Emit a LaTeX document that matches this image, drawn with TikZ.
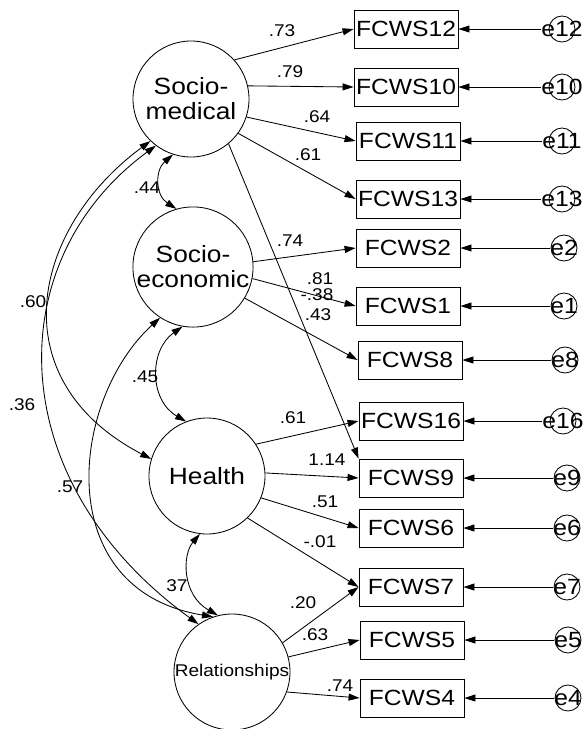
\documentclass[tikz,border=0pt]{standalone}
\usepackage{fontspec}
\setmainfont[FakeStretch=1.12]{Liberation Sans}
\usetikzlibrary{arrows.meta}

\begin{document}
\begin{tikzpicture}[x=1pt,y=-1pt, line width=0.85pt,
  >={Triangle[length=11pt,width=7pt]},
  latent/.style={circle,draw,minimum size=116pt,inner sep=0pt,align=center,
                 font=\fontsize{23.5}{25}\selectfont},
  obs/.style={rectangle,draw,minimum width=104pt,minimum height=38pt,inner sep=0pt,
              font=\fontsize{22}{24}\selectfont},
  elab/.style={inner sep=0pt,font=\fontsize{22}{24}\selectfont},
  ering/.style={circle,draw,minimum size=26pt,inner sep=0pt},
  coef/.style={inner sep=0pt,font=\fontsize{17}{19}\selectfont},
  load/.style={->},
  cov/.style={<->}]
\useasboundingbox (0,0) rectangle (585,729);

% latent factors
\node[latent] (SM) at (191,99)  {Socio-\\medical};
\node[latent] (SE) at (193,267) {Socio-\\economic};
\node[latent] (H)  at (207,476) {Health};
\node[latent,font=\fontsize{17}{19}\selectfont] (R) at (232,672) {Relationships};

% observed items
\node[obs] (F12) at (406,29)  {FCWS12};
\node[obs] (F10) at (406,87)  {FCWS10};
\node[obs] (F11) at (408,141) {FCWS11};
\node[obs] (F13) at (408,199) {FCWS13};
\node[obs] (F2)  at (408,248) {FCWS2};
\node[obs] (F1)  at (408,306) {FCWS1};
\node[obs] (F8)  at (410,360) {FCWS8};
\node[obs] (F16) at (411,421) {FCWS16};
\node[obs] (F9)  at (411,478) {FCWS9};
\node[obs] (F6)  at (411,528) {FCWS6};
\node[obs] (F7)  at (411,587) {FCWS7};
\node[obs] (F5)  at (412,640) {FCWS5};
\node[obs] (F4)  at (412,698) {FCWS4};

% error terms
\foreach \e/\x/\y/\f in {12/562/29/F12, 10/562/87/F10, 11/562/141/F11, 13/562/199/F13,
                         2/564/248/F2, 1/564/306/F1, 8/565/360/F8, 16/563/421/F16,
                         9/567/478/F9, 6/567/528/F6, 7/567/587/F7, 5/568/640/F5, 4/568/698/F4}{
  \node[ering] (c\e) at (\x,\y) {};
  \node[elab] (e\e) at (\x,\y) {e\e};
  \draw[->] (e\e.west) -- (\f.east);
}

% factor loadings
\draw[load] (SM.42)  -- (F12.west);
\draw[load] (SM.13)  -- (F10.west);
\draw[load] (SM.-18) -- (F11.west);
\draw[load] (SM.-36) -- (F13.west);
\draw[load] (SM.-50) -- (F9.north west);
\draw[load] (SE.5)   -- (F2.west);
\draw[load] (SE.-11) -- (F1.west);
\draw[load] (SE.-31) -- (F8.west);
\draw[load] (H.33)   -- (F16.west);
\draw[load] (H.3)    -- (F9.west);
\draw[load] (H.-22)  -- (F6.west);
\draw[load] (H.-46)  -- (F7.west);
\draw[load] (R.30)   -- (F7.west);
\draw[load] (R.15)   -- (F5.west);
\draw[load] (R.-20)  -- (F4.west);

% factor covariances
\draw[cov] (SM.252) .. controls (155,170) and (155,195) .. (SE.106);
\draw[cov] (SE.260) .. controls (149,350) and (149,400) .. (H.111);
\draw[cov] (H.263)  .. controls (182,555) and (182,595) .. (R.104);
\draw[cov] (SM.226) .. controls (30,230) and (0,380) .. (H.163);
\draw[cov] (SM.233) .. controls (0,260) and (0,480) .. (R.125);
\draw[cov] (SE.237) .. controls (70,400) and (50,590) .. (R.109);

% coefficients
\node[coef] (k1)  at (282,31)  {.73};
\node[coef] (k2)  at (290,72)  {.79};
\node[coef] (k3)  at (317,117) {.64};
\node[coef] (k4)  at (308,155) {.61};
\node[coef] (k5)  at (290,241) {.74};
\node[coef] (k6)  at (320,279) {.81};
\node[coef] (k7)  at (317,295) {-.38};
\node[coef] (k8)  at (318,315) {.43};
\node[coef] (k9)  at (147,188) {.44};
\node[coef] (k10) at (33,302)  {.60};
\node[coef] (k11) at (145,377) {.45};
\node[coef] (k12) at (22,405)  {.36};
\node[coef] (k13) at (293,418) {.61};
\node[coef] (k14) at (327,460) {1.14};
\node[coef] (k15) at (70,487)  {.57};
\node[coef] (k16) at (325,502) {.51};
\node[coef] (k17) at (320,542) {-.01};
\node[coef] (k18) at (177,586) {37};
\node[coef] (k19) at (303,603) {.20};
\node[coef] (k20) at (315,635) {.63};
\node[coef] (k21) at (340,686) {.74};
\end{tikzpicture}
\end{document}
